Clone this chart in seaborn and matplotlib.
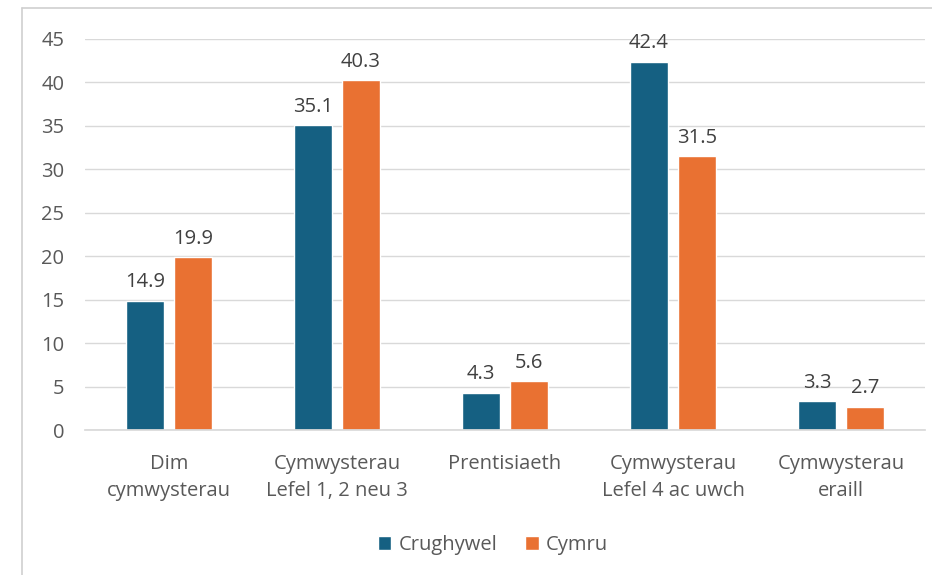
import matplotlib
matplotlib.use("Agg")
import matplotlib.pyplot as plt
import pandas as pd
import seaborn as sns
from matplotlib.lines import Line2D
from matplotlib.patches import Patch

CATEGORIES = [
    "Dim\ncymwysterau",
    "Cymwysterau\nLefel 1, 2 neu 3",
    "Prentisiaeth",
    "Cymwysterau\nLefel 4 ac uwch",
    "Cymwysterau\neraill",
]
CRUGHYWEL = [14.9, 35.1, 4.3, 42.4, 3.3]
CYMRU = [19.9, 40.3, 5.6, 31.5, 2.7]
SERIES = ["Crughywel", "Cymru"]
Y_TICKS = [0, 5, 10, 15, 20, 25, 30, 35, 40, 45]

COLORS = {"Crughywel": "#156082", "Cymru": "#E97132"}
TEXT = "#595959"
GRID = "#d9d9d9"
FS = 14.5

df = pd.DataFrame({
    "category": CATEGORIES * 2,
    "value": CRUGHYWEL + CYMRU,
    "series": [SERIES[0]] * len(CATEGORIES) + [SERIES[1]] * len(CATEGORIES),
})

sns.set_theme(style="white")
plt.rcParams["font.family"] = ["Open Sans", "DejaVu Sans"]

W, H = 932, 575
fig = plt.figure(figsize=(W / 100, H / 100), dpi=100)
ax = fig.add_axes([85 / W, 1 - 430 / H, 840 / W, 391 / H])

sns.barplot(
    data=df, x="category", y="value", hue="series",
    palette=COLORS, width=0.573, gap=0.21, ax=ax,
    legend=False, saturation=1,
)

for cont in ax.containers:
    ax.bar_label(cont, fmt="%.1f", padding=6, fontsize=FS, color="#404040")

ax.set_ylim(0, 45)
ax.set_xlim(-0.5, len(CATEGORIES) - 0.5)
ax.set_yticks(Y_TICKS)
ax.yaxis.grid(True, color=GRID, linewidth=1)
ax.set_axisbelow(True)
for s in ["top", "right", "left"]:
    ax.spines[s].set_visible(False)
ax.spines["bottom"].set_color(GRID)
ax.set_xlabel("")
ax.set_ylabel("")
ax.tick_params(axis="y", length=0, pad=15, labelsize=FS, labelcolor=TEXT)
ax.tick_params(axis="x", length=0, pad=17, labelsize=FS, labelcolor=TEXT)
for lbl in ax.get_xticklabels():
    lbl.set_linespacing(1.5)

handles = [Patch(facecolor=COLORS[s], label=s) for s in SERIES]
fig.legend(
    handles=handles, loc="center", bbox_to_anchor=(493 / W, 1 - 545 / H),
    ncol=2, frameon=False, fontsize=FS, labelcolor=TEXT,
    handlelength=0.65, handleheight=0.65, handletextpad=0.35, columnspacing=1.4,
)

# outer frame of the chart area (top and left edges visible)
fig.add_artist(Line2D([22 / W, 22 / W], [0, 1 - 8 / H], color="#cfcfcf",
                      linewidth=1.2, transform=fig.transFigure))
fig.add_artist(Line2D([22 / W, 1], [1 - 8 / H, 1 - 8 / H], color="#cfcfcf",
                      linewidth=1.2, transform=fig.transFigure))

fig.savefig("out.png", dpi=100)
